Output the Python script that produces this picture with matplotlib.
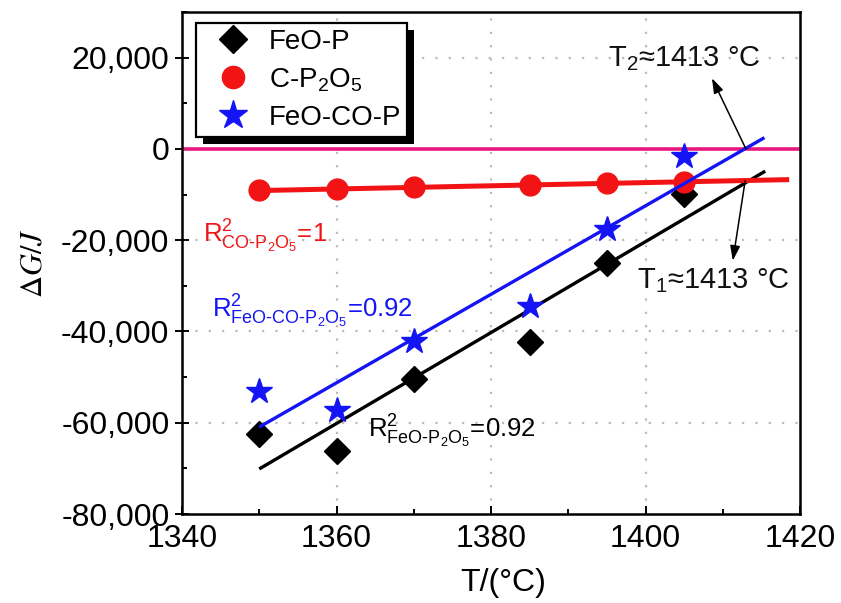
import numpy as np
import matplotlib
matplotlib.use("Agg")
import matplotlib.pyplot as plt
from matplotlib.lines import Line2D
from matplotlib.patches import Rectangle
from matplotlib.ticker import FuncFormatter, MultipleLocator

plt.rcParams["font.family"] = ["Liberation Sans", "DejaVu Sans"]
plt.rcParams["mathtext.fontset"] = "custom"
plt.rcParams["mathtext.rm"] = "Liberation Sans"
plt.rcParams["mathtext.it"] = "Liberation Sans:italic"
plt.rcParams["mathtext.bf"] = "Liberation Sans:bold"

# Temperatures (°C) and Gibbs free energy change (J)
temperature = [1350, 1360, 1370, 1385, 1395, 1405]
feo_p = [-62400, -66300, -50500, -42400, -24900, -9900]
c_p2o5 = [-9100, -8800, -8450, -7900, -7550, -7200]
feo_co_p = [-53000, -57300, -42000, -34400, -17500, -1500]

series_names = ["FeO-P", "C-P$\\mathregular{_2}$O$\\mathregular{_5}$", "FeO-CO-P"]
fit_end = {"feo_p": 1415.5, "c_p2o5": 1418.6, "feo_co_p": 1415.4}

r2_labels = [
    "$\\mathregular{R^2_{CO\u2010P_2O_5}}$=1",
    "$\\mathregular{R^2_{FeO\u2010CO\u2010P_2O_5}}$=0.92",
    "$\\mathregular{R^2_{FeO\u2010P_2O_5}}$=0.92",
]
t_labels = ["T$\\mathregular{_2}$≈1413 °C", "T$\\mathregular{_1}$≈1413 °C"]

x_ticks = [1340, 1360, 1380, 1400, 1420]
y_ticks = [-80000, -60000, -40000, -20000, 0, 20000]

RED = "#f21414"
BLUE = "#1414f5"
PINK = "#e8177f"

fig = plt.figure(figsize=(8.41, 6.03), dpi=100)
ax = fig.add_axes([182 / 841, 1 - 514 / 603, 618 / 841, 502 / 603])

ax.set_xlim(1340, 1420)
ax.set_ylim(-80000, 30000)

# dotted grid at the major ticks
for xv in [1360, 1380, 1400]:
    ax.axvline(xv, color="#bcbcbc", lw=1.6, ls=(0, (1, 5)), zorder=1)
for yv in [20000, -20000, -40000, -60000]:
    ax.axhline(yv, color="#bcbcbc", lw=1.6, ls=(0, (1, 5)), zorder=1)

ax.axhline(0, color=PINK, lw=2.6, zorder=2)

x = np.array(temperature, dtype=float)


def fit_line(y, x_end):
    k, b = np.polyfit(x, np.array(y, dtype=float), 1)
    xs = np.array([x[0], x_end])
    return xs, k * xs + b


xs, ys = fit_line(feo_p, fit_end["feo_p"])
ax.plot(xs, ys, color="k", lw=2.4, zorder=3, solid_capstyle="butt")
ax.plot(x, feo_p, ls="none", marker="D", ms=13, color="k", zorder=3)

xs, ys = fit_line(c_p2o5, fit_end["c_p2o5"])
ax.plot(xs, ys, color=RED, lw=3.6, zorder=4, solid_capstyle="butt")
ax.plot(x, c_p2o5, ls="none", marker="o", ms=15, color=RED, zorder=4)

xs, ys = fit_line(feo_co_p, fit_end["feo_co_p"])
ax.plot(xs, ys, color=BLUE, lw=2.4, zorder=5, solid_capstyle="butt")
ax.plot(x, feo_co_p, ls="none", marker="*", ms=19, color=BLUE, zorder=5)

# axes styling
for sp in ax.spines.values():
    sp.set_linewidth(1.8)
ax.xaxis.set_minor_locator(MultipleLocator(10))
ax.yaxis.set_minor_locator(MultipleLocator(10000))
ax.set_xticks(x_ticks)
ax.set_yticks(y_ticks)
ax.yaxis.set_major_formatter(FuncFormatter(lambda v, p: f"{int(v):,}"))
ax.tick_params(axis="x", which="major", direction="in", length=6, width=1.4,
               labelsize=23, pad=7)
ax.tick_params(axis="y", which="major", direction="inout", length=10, width=1.4,
               labelsize=23, pad=4)
ax.tick_params(which="minor", direction="in", length=3.5, width=1.4)

ax.set_xlabel("T/(°C)", fontsize=23, labelpad=3)
ax.xaxis.set_label_coords(0.52, -0.108)
ax.set_ylabel("$\\Delta G/J$", fontsize=22, math_fontfamily="stix", labelpad=9)

# coefficient of determination labels
ax.text(1342.7, -20560, r2_labels[0], color=RED, fontsize=18.5, va="baseline", ha="left")
ax.text(1343.9, -36960, r2_labels[1], color=BLUE, fontsize=18.5, va="baseline", ha="left")
ax.text(1364.1, -63200, r2_labels[2], color="k", fontsize=18.5, va="baseline", ha="left")

# intersection temperatures
arrow_kw = dict(arrowstyle="-|>,head_length=0.9,head_width=0.3", color="k", lw=1.1,
                shrinkA=0, shrinkB=0)
ax.annotate("", xy=(1408.6, 15500), xytext=(1413.0, 0), arrowprops=arrow_kw, zorder=6)
ax.annotate("", xy=(1411.3, -24500), xytext=(1412.9, -7000), arrowprops=arrow_kw, zorder=6)
ax.text(1395.1, 19700, t_labels[0], fontsize=21, va="center", ha="left", color="#111111")
ax.text(1398.9, -28900, t_labels[1], fontsize=21, va="center", ha="left", color="#111111")

# legend with a solid drop shadow
handles = [
    Line2D([], [], ls="none", marker="D", ms=14, color="k"),
    Line2D([], [], ls="none", marker="o", ms=16, color=RED),
    Line2D([], [], ls="none", marker="*", ms=21, color=BLUE),
]
leg = ax.legend(handles, series_names, loc="upper left",
                bbox_to_anchor=(14 / 618, 1 - 11 / 502), borderaxespad=0,
                fontsize=20, frameon=True, fancybox=False, framealpha=1,
                edgecolor="k", borderpad=0.22, handlelength=2.2,
                handletextpad=0.2, labelspacing=0.4, numpoints=1)
leg.get_frame().set_linewidth(1.6)
leg.set_zorder(8)

fig.canvas.draw()
bb = leg.get_window_extent()
inv = ax.transAxes.inverted()
(x0, y0), (x1, y1) = inv.transform([[bb.x0 + 7, bb.y0 - 7], [bb.x1 + 7, bb.y1 - 7]])
ax.add_patch(Rectangle((x0, y0), x1 - x0, y1 - y0, transform=ax.transAxes,
                       facecolor="k", edgecolor="none", zorder=7, clip_on=False))

fig.savefig("out.png", dpi=100)
